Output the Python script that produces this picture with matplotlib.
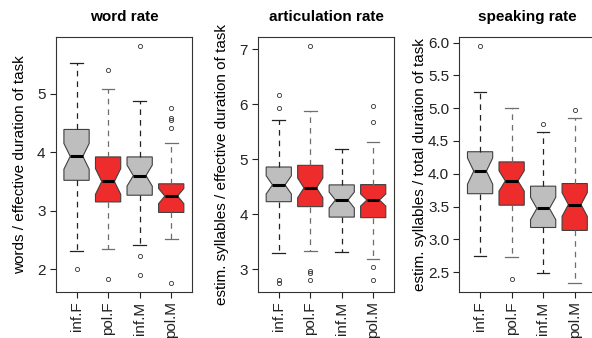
import numpy as np
import matplotlib
matplotlib.use("Agg")
import matplotlib.pyplot as plt
from matplotlib.ticker import FormatStrFormatter

plt.rcParams['font.family'] = ['Liberation Sans', 'DejaVu Sans']
plt.rcParams['font.size'] = 11

labels = ['inf.F', 'pol.F', 'inf.M', 'pol.M']

# word rate
word_med = [3.93, 3.50, 3.60, 3.25]
word_q1 = [3.52, 3.15, 3.265, 2.97]
word_q3 = [4.39, 3.92, 3.92, 3.46]
word_lo = [2.31, 2.34, 2.41, 2.52]
word_hi = [5.53, 5.08, 4.87, 4.16]
word_ci = [0.22, 0.22, 0.18, 0.13]
word_fliers = [[2.0], [5.41, 1.83], [5.81, 2.23, 1.90], [4.76, 4.58, 4.56, 4.42, 1.77]]

# articulation rate
artic_med = [4.535, 4.48, 4.26, 4.26]
artic_q1 = [4.23, 4.14, 3.95, 3.94]
artic_q3 = [4.86, 4.89, 4.535, 4.54]
artic_lo = [3.29, 3.34, 3.32, 3.19]
artic_hi = [5.71, 5.88, 5.19, 5.31]
artic_ci = [0.165, 0.18, 0.145, 0.11]
artic_fliers = [[6.16, 5.94, 2.80, 2.76], [7.05, 2.97, 2.93, 2.80], [], [5.96, 5.68, 3.04, 2.80]]

# speaking rate
speak_med = [4.04, 3.89, 3.47, 3.53]
speak_q1 = [3.695, 3.52, 3.18, 3.135]
speak_q3 = [4.335, 4.18, 3.81, 3.85]
speak_lo = [2.75, 2.73, 2.48, 2.34]
speak_hi = [5.245, 4.995, 4.635, 4.85]
speak_ci = [0.20, 0.155, 0.17, 0.18]
speak_fliers = [[5.94], [2.40], [4.76], [4.965]]

fill_colors = ['#bebebe', '#ee2c2c', '#bebebe', '#ee2c2c']
line_colors = ['#222222', '#6e6e6e', '#222222', '#6e6e6e']


def make_stats(med, q1, q3, lo, hi, ci, fliers):
    stats = []
    for i in range(len(labels)):
        stats.append(dict(med=med[i], q1=q1[i], q3=q3[i], whislo=lo[i], whishi=hi[i],
                          cilo=med[i] - ci[i], cihi=med[i] + ci[i],
                          fliers=np.array(fliers[i]), label=labels[i]))
    return stats


def draw_panel(ax, stats, title, ylabel, yticks, label_x, fmt=None):
    parts = ax.bxp(stats, positions=[1, 2, 3, 4], widths=0.8, shownotches=True, patch_artist=True,
                   boxprops=dict(linewidth=0.8, edgecolor='#404040'),
                   whiskerprops=dict(linewidth=0.9, linestyle=(0, (4.5, 4))),
                   capprops=dict(linewidth=0.9),
                   medianprops=dict(color='black', linewidth=2.2, solid_capstyle='butt'),
                   flierprops=dict(marker='o', markersize=3, markerfacecolor='none',
                                   markeredgecolor='#333333', markeredgewidth=0.6))
    for i, box in enumerate(parts['boxes']):
        box.set_facecolor(fill_colors[i])
        for line in parts['whiskers'][2 * i:2 * i + 2] + parts['caps'][2 * i:2 * i + 2]:
            line.set_color(line_colors[i])

    ax.set_xlim(0.34, 4.66)
    ax.margins(y=0.04)
    ax.set_yticks(yticks)
    if fmt:
        ax.yaxis.set_major_formatter(FormatStrFormatter(fmt))
    ax.set_xticks([1, 2, 3, 4])
    ax.set_xticklabels(labels, rotation=90)
    ax.tick_params(axis='y', length=4.3, width=0.8, pad=3, colors='#222222')
    ax.tick_params(axis='x', length=4.3, width=0.8, pad=2.5, colors='#222222')
    for sp in ax.spines.values():
        sp.set_linewidth(0.8)
        sp.set_color('#333333')
    ax.set_title(title, fontweight='bold', fontsize=11, pad=11.5)
    ax.set_ylabel(ylabel, va='center')
    ax.yaxis.set_label_coords(label_x, 0.5)


fig = plt.figure(figsize=(5.92, 3.38), dpi=100)
bottom, height = 0.136, 0.7545
ax1 = fig.add_axes([0.0941, bottom, 0.2303, height])
ax2 = fig.add_axes([0.4358, bottom, 0.2297, height])
ax3 = fig.add_axes([0.7758, bottom, 0.2301, height])

draw_panel(ax1, make_stats(word_med, word_q1, word_q3, word_lo, word_hi, word_ci, word_fliers),
           'word rate', 'words / effective duration of task', [2, 3, 4, 5], -0.262)
draw_panel(ax2, make_stats(artic_med, artic_q1, artic_q3, artic_lo, artic_hi, artic_ci, artic_fliers),
           'articulation rate', 'estim. syllables / effective duration of task', [3, 4, 5, 6, 7], -0.267)
draw_panel(ax3, make_stats(speak_med, speak_q1, speak_q3, speak_lo, speak_hi, speak_ci, speak_fliers),
           'speaking rate', 'estim. syllables / total duration of task',
           [2.5, 3.0, 3.5, 4.0, 4.5, 5.0, 5.5, 6.0], -0.286, fmt='%.1f')

fig.savefig('out.png', dpi=100)
